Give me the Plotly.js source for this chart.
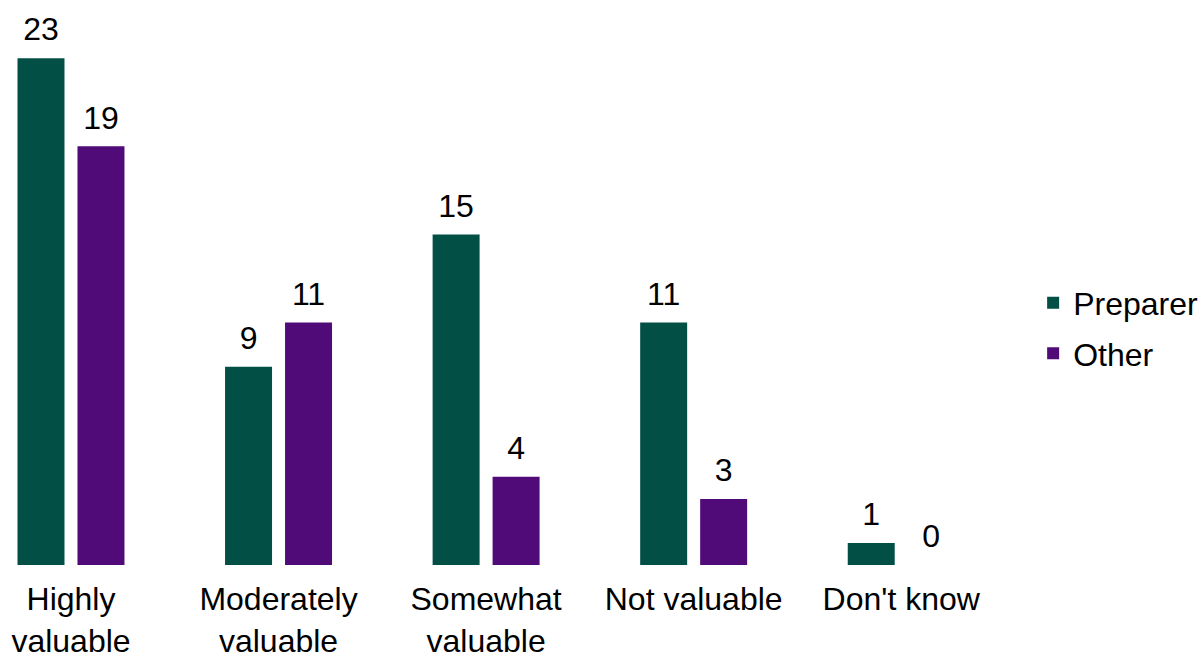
<!DOCTYPE html>
<html>
<head>
<meta charset="utf-8">
<script src="https://cdn.plot.ly/plotly-3.0.1.min.js"></script>
<style>html,body{margin:0;padding:0;background:#fff;}#chart{width:1198px;height:652px;}</style>
</head>
<body>
<div id="chart"></div>
<script>
const categories = ["Highly<br>valuable", "Moderately<br>valuable", "Somewhat<br>valuable", "Not valuable", "Don't know"];
const preparer = [23, 9, 15, 11, 1];
const other = [19, 11, 4, 3, 0];
const seriesNames = ["Preparer", "Other"];
const colors = ["#024F46", "#500B78"];

const font = {family: "Liberation Sans, Arial, sans-serif", size: 32, color: "#000"};

const bars = [preparer, other].map((vals, i) => ({
  type: "bar",
  name: seriesNames[i],
  x: categories,
  y: vals,
  marker: {color: colors[i]},
  offsetgroup: "g" + i,
  legendgroup: "g" + i,
  hoverinfo: "none"
}));

const labels = [preparer, other].map((vals, i) => ({
  type: "scatter",
  mode: "markers+text",
  x: categories,
  y: vals,
  text: vals.map(String),
  textposition: "top center",
  textfont: font,
  marker: {size: 14, opacity: 0, color: colors[i]},
  cliponaxis: false,
  offsetgroup: "g" + i,
  showlegend: false,
  hoverinfo: "none"
}));

const layout = {
  width: 1198, height: 652,
  margin: {l: 0, r: 193, t: 20, b: 87, autoexpand: false},
  paper_bgcolor: "#fff", plot_bgcolor: "#fff",
  font: font,
  barmode: "group",
  scattermode: "group",
  bargap: 0.422,
  bargroupgap: 0.2167,
  scattergap: 0.422,
  showlegend: true,
  legend: {x: 1.028, xanchor: "left", y: 0.434, yanchor: "middle", font: font, tracegroupgap: 6, bgcolor: "rgba(0,0,0,0)"},
  xaxis: {range: [-0.342, 4.5], showline: false, showgrid: false, zeroline: false, ticks: "", tickfont: font, ticklabelstandoff: 12, fixedrange: true},
  yaxis: {range: [0, 24.73], visible: false, showgrid: false, zeroline: false, fixedrange: true}
};

Plotly.newPlot("chart", bars.concat(labels), layout, {staticPlot: true});
</script>
</body>
</html>
